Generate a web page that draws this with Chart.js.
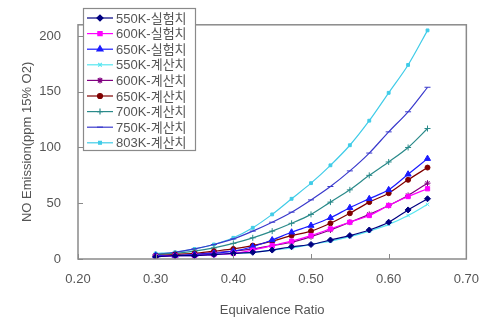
<!DOCTYPE html>
<html>
<head>
<meta charset="utf-8">
<script src="https://cdn.jsdelivr.net/npm/chart.js@4/dist/chart.umd.min.js"></script>
<style>
html,body{margin:0;padding:0;background:#fff;}
#wrap{width:492px;height:322px;}
</style>
</head>
<body>
<div id="wrap"><canvas id="c" width="492" height="322"></canvas></div>
<script>
// ---- data ----
const ratios = [0.30,0.325,0.35,0.375,0.40,0.425,0.45,0.475,0.50,0.525,0.55,0.575,0.60,0.625,0.65];
const seriesNames = ['550K-실험치','600K-실험치','650K-실험치','550K-계산치','600K-계산치','650K-계산치','700K-계산치','750K-계산치','803K-계산치'];
const exp550  = [2,3,3,4,5,6,8,11,13,17,21,26,33,44,54];
const exp600  = [2,3,3,4,5,8,12,16,21,27,33,39,48,56,63];
const exp650  = [3,3,4,5,7,11,17,24,30,37,46,54,62,76,90];
const calc550 = [2,3,3,4,5,6,8,10,13,16,20,25,31,39,49];
const calc600 = [3,3,4,6,7,9,12,15,20,26,33,40,48,57,68];
const calc650 = [3,4,5,7,9,12,16,21,25,32,41,51,59,71,82];
const calc700 = [4,5,7,10,14,19,25,32,40,51,62,75,87,100,117];
const calc750 = [4,6,9,13,18,25,33,42,53,65,79,95,114,132,154];
const calc803 = [5,6,9,13,19,28,40,54,68,84,102,124,149,174,205];
const xTicks = [0.2,0.3,0.4,0.5,0.6,0.7];
const yTicks = [0,50,100,150,200];

const values = [exp550,exp600,exp650,calc550,calc600,calc650,calc700,calc750,calc803];
const colors = ['#000080','#ff00ff','#1a1aff','#55e6f0','#800080','#800000','#2a8a8a','#3a3acc','#40cce8'];
const styles = ['rectRot','rect','triangle','crossRot','star','circle','cross','line','rect'];
const radii  = [3,3,3.5,2.5,3,2.5,3,3,2];

Chart.defaults.font.family = "'Liberation Sans', Arial, 'Noto Sans CJK KR', sans-serif";
Chart.defaults.color = '#555';

const datasets = values.map((v,i)=>({
  label: seriesNames[i],
  data: v.map((y,j)=>({x: ratios[j], y: y})),
  borderColor: colors[i],
  backgroundColor: colors[i],
  pointBorderColor: colors[i],
  pointBackgroundColor: colors[i],
  pointStyle: styles[i],
  pointRadius: radii[i],
  pointBorderWidth: 1,
  borderWidth: 1.2,
  tension: 0.3,
  fill: false
}));

const framePlugin = {
  id: 'frame',
  afterDraw(chart){
    const ctx = chart.ctx, a = chart.chartArea;
    const xs = chart.scales.x, ys = chart.scales.y;
    ctx.save();
    ctx.strokeStyle = '#8a8a8a';
    ctx.lineWidth = 1.5;
    ctx.strokeRect(a.left, a.top, a.right - a.left, a.bottom - a.top);
    ctx.lineWidth = 1;
    ctx.beginPath();
    ys.ticks.forEach(t=>{ const p = Math.round(ys.getPixelForValue(t.value))+0.5; ctx.moveTo(a.left, p); ctx.lineTo(a.left+5, p); });
    xs.ticks.forEach(t=>{ const p = Math.round(xs.getPixelForValue(t.value))+0.5; ctx.moveTo(p, a.bottom); ctx.lineTo(p, a.bottom-5); });
    ctx.stroke();
    // legend box
    const lx = 83, ly = 8, lw = 112, lh = 142;
    ctx.fillStyle = '#fff';
    ctx.fillRect(lx, ly, lw, lh);
    ctx.strokeStyle = '#8a8a8a';
    ctx.lineWidth = 1.2;
    ctx.strokeRect(lx+0.5, ly+0.5, lw, lh);
    ctx.font = "13px 'Liberation Sans', Arial, 'Noto Sans CJK KR', sans-serif";
    ctx.textBaseline = 'middle';
    ctx.textAlign = 'left';
    chart.data.datasets.forEach((ds,i)=>{
      const yy = ly + 10 + i*15.6;
      ctx.strokeStyle = ds.borderColor;
      ctx.lineWidth = 1.2;
      ctx.beginPath(); ctx.moveTo(87, yy); ctx.lineTo(113, yy); ctx.stroke();
      ctx.fillStyle = ds.pointBackgroundColor;
      Chart.helpers.drawPoint(ctx, {pointStyle: ds.pointStyle, radius: ds.pointRadius, rotation: 0, borderWidth: 1}, 100, yy);
      ctx.fillStyle = '#555';
      ctx.fillText(ds.label, 116, yy+1);
    });
    ctx.restore();
  }
};

new Chart(document.getElementById('c'), {
  type: 'line',
  data: { datasets },
  plugins: [framePlugin],
  options: {
    responsive: false,
    animation: false,
    layout: { padding: { top: 5, right: 19, left: 0, bottom: 0 } },
    plugins: { legend: { display: false }, tooltip: { enabled: false } },
    scales: {
      x: {
        type: 'linear', min: 0.2, max: 0.7,
        afterBuildTicks: s => { s.ticks = xTicks.map(v=>({value:v})); },
        afterFit: s => { s.height = 63; },
        grid: { display: false, drawTicks: false },
        border: { display: false },
        ticks: { padding: 13, font: { size: 13 }, callback: v => Number(v).toFixed(2) },
        title: { display: true, text: 'Equivalence Ratio', font: { size: 13 }, padding: { top: 0, bottom: 4 } }
      },
      y: {
        type: 'linear', min: 0, max: 210,
        afterBuildTicks: s => { s.ticks = yTicks.map(v=>({value:v})); },
        afterFit: s => { s.width = 78; },
        grid: { display: false, drawTicks: false },
        border: { display: false },
        ticks: { padding: 17, font: { size: 13 } },
        title: { display: true, text: 'NO Emission(ppm 15% O2)', font: { size: 13 }, padding: { top: 20, bottom: 0 } }
      }
    }
  }
});
</script>
</body>
</html>
